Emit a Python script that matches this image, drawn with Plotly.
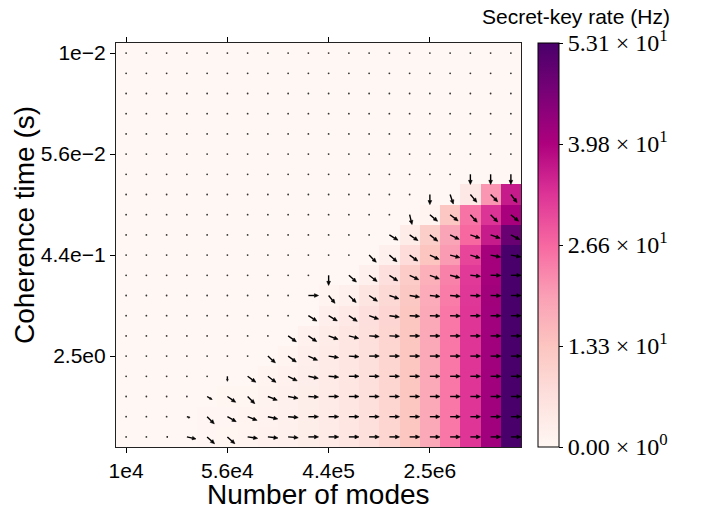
import numpy as np
import plotly.graph_objects as go

# Secret-key rate (Hz) on the grid: rows = coherence time (top to bottom),
# columns = number of modes (left to right).
rate_hz = [
    [0, 0, 0, 0, 0, 0, 0, 0, 0, 0, 0, 0, 0, 0, 0, 0, 0, 0, 0, 0],
    [0, 0, 0, 0, 0, 0, 0, 0, 0, 0, 0, 0, 0, 0, 0, 0, 0, 0, 0, 0],
    [0, 0, 0, 0, 0, 0, 0, 0, 0, 0, 0, 0, 0, 0, 0, 0, 0, 0, 0, 0],
    [0, 0, 0, 0, 0, 0, 0, 0, 0, 0, 0, 0, 0, 0, 0, 0, 0, 0, 0, 0],
    [0, 0, 0, 0, 0, 0, 0, 0, 0, 0, 0, 0, 0, 0, 0, 0, 0, 0, 0, 0],
    [0, 0, 0, 0, 0, 0, 0, 0, 0, 0, 0, 0, 0, 0, 0, 0, 0, 0, 0, 0],
    [0, 0, 0, 0, 0, 0, 0, 0, 0, 0, 0, 0, 0, 0, 0, 0, 0, 0, 0, 0],
    [0, 0, 0, 0, 0, 0, 0, 0, 0, 0, 0, 0, 0, 0, 0, 0, 0, 4.3, 21.0, 36.5],
    [0, 0, 0, 0, 0, 0, 0, 0, 0, 0, 0, 0, 0, 0, 0, 0.8, 12.9, 25.2, 33.3, 40.5],
    [0, 0, 0, 0, 0, 0, 0, 0, 0, 0, 0, 0, 0, 0, 3.3, 11.0, 19.0, 26.5, 36.5, 48.7],
    [0, 0, 0, 0, 0, 0, 0, 0, 0, 0, 0, 0, 0, 2.0, 7.5, 13.3, 20.5, 31.0, 41.0, 53.1],
    [0, 0, 0, 0, 0, 0, 0, 0, 0, 0, 0, 0, 2.0, 6.5, 11.5, 17.0, 23.5, 32.5, 41.0, 53.1],
    [0, 0, 0, 0, 0, 0, 0, 0, 0, 0, 0.8, 1.8, 5.0, 8.3, 12.5, 17.8, 24.3, 32.8, 41.3, 53.1],
    [0, 0, 0, 0, 0, 0, 0, 0, 0, 0, 2.2, 4.0, 6.5, 9.0, 13.0, 18.2, 24.8, 33.0, 41.5, 53.1],
    [0, 0, 0, 0, 0, 0, 0, 0, 0, 1.4, 3.2, 4.7, 6.8, 9.2, 13.0, 18.2, 24.8, 33.0, 41.5, 53.1],
    [0, 0, 0, 0, 0, 0, 0, 0, 1.0, 2.2, 3.4, 4.9, 6.8, 9.2, 13.0, 18.2, 24.8, 33.0, 41.5, 53.1],
    [0, 0, 0, 0, 0, 0, 0, 0.9, 1.6, 2.5, 3.6, 4.9, 6.8, 9.2, 13.0, 18.2, 24.8, 33.0, 41.5, 53.1],
    [0, 0, 0, 0, 0, 0.25, 0.65, 1.2, 1.8, 2.6, 3.6, 4.9, 6.8, 9.2, 13.0, 18.2, 24.8, 33.0, 41.5, 53.1],
    [0, 0, 0, 0, 0.15, 0.45, 0.95, 1.35, 1.85, 2.6, 3.6, 4.9, 6.8, 9.2, 13.0, 18.2, 24.8, 33.0, 41.5, 53.1],
    [0, 0, 0, 0.05, 0.45, 0.7, 1.0, 1.4, 1.9, 2.6, 3.6, 4.9, 6.8, 9.2, 13.0, 18.2, 24.8, 33.0, 41.5, 53.1],
]

mode_tick_index = [0, 5, 10, 15]
mode_tick_labels = ["1e4", "5.6e4", "4.4e5", "2.5e6"]
coherence_tick_index = [0, 5, 10, 15]
coherence_tick_labels = ["1e−2", "5.6e−2", "4.4e−1", "2.5e0"]

rate_min = 0.0
rate_max = 53.1
cbar_tick_values = [0.0, 13.275, 26.55, 39.825, 53.1]
cbar_tick_labels = [
    "0.00 × 10<sup>0</sup>",
    "1.33 × 10<sup>1</sup>",
    "2.66 × 10<sup>1</sup>",
    "3.98 × 10<sup>1</sup>",
    "5.31 × 10<sup>1</sup>",
]

Z = np.array(rate_hz, dtype=float)
n_rows, n_cols = Z.shape
cols = np.arange(n_cols)
rows = np.arange(n_rows)

fig = go.Figure()

fig.add_trace(go.Heatmap(
    z=Z, x=cols, y=rows,
    colorscale="RdPu", zmin=rate_min, zmax=rate_max,
    showscale=True,
    colorbar=dict(
        x=(538 - 116) / 405, xanchor="left", xpad=0,
        y=0.5, yanchor="middle", ypad=0,
        len=1.0, lenmode="fraction", thickness=21,
        outlinewidth=1, outlinecolor="black",
        ticks="outside", ticklen=4, tickwidth=1, tickcolor="black",
        tickvals=cbar_tick_values, ticktext=cbar_tick_labels,
        tickfont=dict(family="Liberation Serif", size=24, color="black"),
    ),
    hoverinfo="skip",
))

# Gradient field of the rate map: direction of steepest increase,
# normalised length with a soft clip for very weak gradients.
g_row, g_col = np.gradient(Z)
mag = np.hypot(g_row, g_col)
g_ref = 0.25
full_len = 0.5
head_len = 0.2
head_half = 0.09

shaft_x, shaft_y = [], []
head_x, head_y = [], []
dot_x, dot_y = [], []
for r in rows:
    for c in cols:
        m = mag[r, c]
        if m < 1e-9:
            dot_x.append(c)
            dot_y.append(r)
            continue
        s = min(1.0, m / g_ref)
        ux, uy = g_col[r, c] / m, g_row[r, c] / m
        L = full_len * s
        hl = head_len * s
        hw = head_half * max(s, 0.5)
        tip_x, tip_y = c + L * ux, r + L * uy
        base_x, base_y = tip_x - hl * ux, tip_y - hl * uy
        px, py = -uy, ux
        shaft_x += [c, base_x, None]
        shaft_y += [r, base_y, None]
        head_x += [tip_x, base_x + hw * px, base_x - hw * px, tip_x, None]
        head_y += [tip_y, base_y + hw * py, base_y - hw * py, tip_y, None]

fig.add_trace(go.Scatter(
    x=dot_x, y=dot_y, mode="markers",
    marker=dict(size=1.8, color="#333333"),
    hoverinfo="skip", showlegend=False,
))
fig.add_trace(go.Scatter(
    x=shaft_x, y=shaft_y, mode="lines",
    line=dict(color="black", width=1.4),
    hoverinfo="skip", showlegend=False,
))
fig.add_trace(go.Scatter(
    x=head_x, y=head_y, mode="lines", fill="toself",
    fillcolor="black", line=dict(color="black", width=0.6),
    hoverinfo="skip", showlegend=False,
))

axis_font = dict(family="Liberation Sans", size=21, color="black")

fig.update_xaxes(
    range=[-0.5, n_cols - 0.5],
    tickvals=mode_tick_index, ticktext=mode_tick_labels,
    ticks="outside", ticklen=5, tickwidth=1, tickcolor="black",
    showline=True, linecolor="#222222", linewidth=1.2, mirror="ticks",
    showgrid=False, zeroline=False, tickfont=axis_font,
)
fig.update_yaxes(
    range=[n_rows - 0.5, -0.5],
    tickvals=coherence_tick_index, ticktext=coherence_tick_labels,
    ticks="outside", ticklen=5, tickwidth=1, tickcolor="black",
    showline=True, linecolor="#222222", linewidth=1.2, mirror=True,
    showgrid=False, zeroline=False, tickfont=axis_font,
)

title_font = dict(family="Liberation Sans", size=28, color="black")
fig.update_layout(
    width=702, height=510,
    margin=dict(l=116, r=181, t=43, b=63),
    paper_bgcolor="white", plot_bgcolor="white",
    showlegend=False,
    annotations=[
        dict(text="Number of modes", xref="paper", yref="paper",
             x=0.5, y=(447 - 494) / 404, xanchor="center", yanchor="middle",
             showarrow=False, font=title_font),
        dict(text="Coherence time (s)", xref="paper", yref="paper",
             x=(25 - 116) / 405, y=(447 - 225) / 404, textangle=-90,
             xanchor="center", yanchor="middle",
             showarrow=False, font=title_font),
        dict(text="Secret-key rate (Hz)", xref="paper", yref="paper",
             x=(672 - 116) / 405, y=(447 - 17) / 404,
             xanchor="right", yanchor="middle",
             showarrow=False, font=dict(family="Liberation Sans", size=21, color="black")),
    ],
)

fig.write_html("out.html")
